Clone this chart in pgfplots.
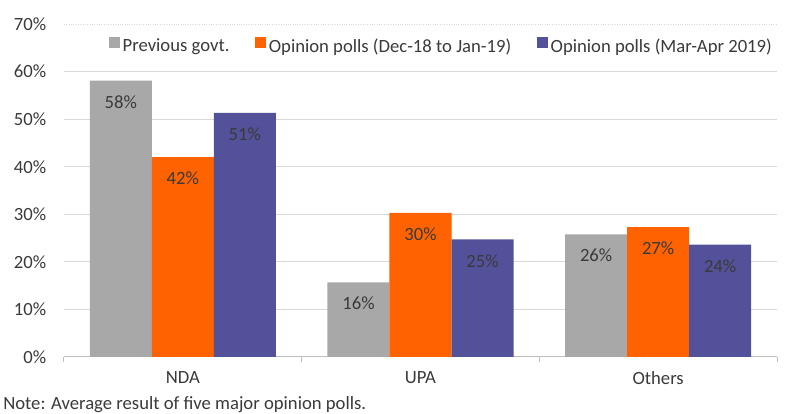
\documentclass[border=0pt]{standalone}
\usepackage{pgfplots}
\pgfplotsset{compat=1.18}
\usepackage{fontspec}
\setmainfont{Carlito}
\definecolor{txt}{HTML}{3A3A3A}
\definecolor{cgrey}{HTML}{A8A8A8}
\definecolor{corange}{HTML}{FF6200}
\definecolor{cpurple}{HTML}{52519A}
\definecolor{gridc}{HTML}{D9D9D9}
\begin{document}
\fontsize{14pt}{16.8pt}\selectfont
\begin{tikzpicture}
\useasboundingbox (-48pt,-42.75pt) rectangle (552pt,267.75pt);
\begin{axis}[
  at={(0,0)}, anchor=south west,
  scale only axis, width=534.75pt, height=249.75pt,
  ybar=0pt, bar width=46.5pt,
  xmin=-0.5, xmax=2.5, ymin=0, ymax=70,
  xtick={0,1,2}, xticklabels={NDA,UPA,Others},
  ytick={0,10,20,30,40,50,60},
  extra y ticks={70},
  extra y tick style={grid style={gridc, line width=0.75pt, densely dotted}},
  yticklabel={\pgfmathprintnumber{\tick}\%},
  /pgf/number format/assume math mode=true,
  ymajorgrids, grid style={gridc, line width=0.75pt},
  axis lines*=left,
  y axis line style={draw=none},
  x axis line style={gridc!70!gray, line width=0.75pt},
  major tick length=0pt,
  xtick align=outside,
  extra x ticks={-0.5,0.5,1.5,2.5},
  extra x tick labels={},
  extra x tick style={major tick length=4pt, tick style={gridc!70!gray, line width=0.75pt}},
  tick label style={text=txt},
  yticklabel style={xshift=-8.5pt},
  xticklabel style={yshift=-6pt},
  nodes near coords={\pgfmathprintnumber[fixed,precision=0]{\pgfplotspointmeta}\%},
  every node near coord/.append style={anchor=center, yshift=-16pt, text=txt},
  legend columns=3,
  legend style={at={(0.997,0.931)}, anchor=east, draw=none, fill=none, inner sep=0pt,
    text=txt, /tikz/every even column/.append style={column sep=17pt}},
  legend image code/.code={\fill[#1] (0pt,-1pt) rectangle (8.5pt,7.5pt);},
]
\addplot[fill=cgrey, draw=none] coordinates {(0,58.1) (1,15.7) (2,25.8)};
\addplot[fill=corange, draw=none] coordinates {(0,42.0) (1,30.3) (2,27.3)};
\addplot[fill=cpurple, draw=none] coordinates {(0,51.3) (1,24.7) (2,23.6)};
\legend{Previous govt.,Opinion polls (Dec-18 to Jan-19),Opinion polls (Mar-Apr 2019)}
\end{axis}
\node[anchor=base west, inner sep=0pt, text=txt] at (-45.75pt,-39pt) {Note: Average result of five major opinion polls.};
\end{tikzpicture}
\end{document}
